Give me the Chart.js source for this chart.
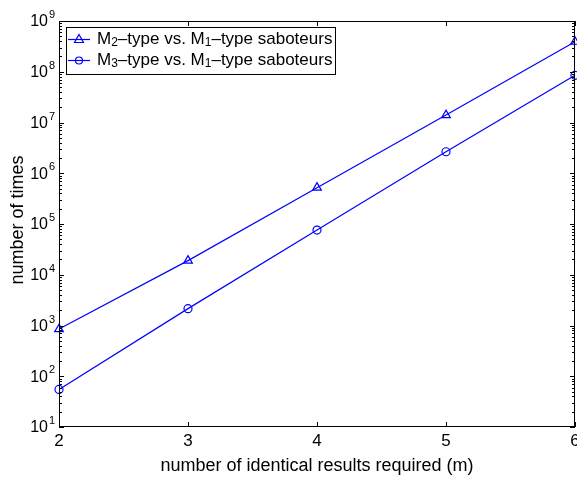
<!DOCTYPE html>
<html>
<head>
<meta charset="utf-8">
<script src="https://cdn.jsdelivr.net/npm/chart.js@4"></script>
<style>
  body { margin: 0; background: #fff; }
  canvas { display: block; }
</style>
</head>
<body>
<canvas id="myChart" width="577" height="478"></canvas>
<script>
// data
const mValues = [2, 3, 4, 5, 6];
const m2Times = [850, 19000, 520000, 14000000, 390000000];
const m3Times = [55, 2150, 76000, 2650000, 85000000];
const yExponents = [1, 2, 3, 4, 5, 6, 7, 8, 9];
const xTickLabels = ['2', '3', '4', '5', '6'];

const seriesNames = [
    [['M', 0], ['2', 1], ['\u2013type vs. M', 0], ['1', 1], ['\u2013type saboteurs', 0]],
    [['M', 0], ['3', 1], ['\u2013type vs. M', 0], ['1', 1], ['\u2013type saboteurs', 0]]
];

const FONT = '"Liberation Sans", Arial, Helvetica, sans-serif';
const BLUE = 'rgb(0,0,255)';

function toPoints(ys) {
    return mValues.map((x, i) => ({ x: x, y: ys[i] }));
}

// draws text pieces, flag 1 = subscript
function drawRich(c, parts, x, y, size) {
    let cx = x;
    parts.forEach(p => {
        let fs = p[1] ? Math.round(size * 0.7) : size;
        let dy = p[1] ? size * 0.22 : 0;
        c.font = fs + 'px ' + FONT;
        c.fillText(p[0], cx, y + dy);
        cx += c.measureText(p[0]).width;
    });
}

const axesPlugin = {
    id: 'matlabAxes',
    afterDraw(chart) {
        const c = chart.ctx;
        const a = chart.chartArea;
        const xs = chart.scales.x;
        const ys = chart.scales.y;
        c.save();
        c.strokeStyle = '#000';
        c.fillStyle = '#000';
        c.lineWidth = 1;

        // ticks inside the box
        c.beginPath();
        mValues.forEach(v => {
            let px = Math.round(xs.getPixelForValue(v)) + 0.5;
            c.moveTo(px, a.bottom); c.lineTo(px, a.bottom - 5);
            c.moveTo(px, a.top); c.lineTo(px, a.top + 5);
        });
        yExponents.forEach(e => {
            let py = Math.round(ys.getPixelForValue(Math.pow(10, e))) + 0.5;
            c.moveTo(a.left, py); c.lineTo(a.left + 5, py);
            c.moveTo(a.right, py); c.lineTo(a.right - 5, py);
            if (e < 9) {
                for (let k = 2; k <= 9; k++) {
                    let pm = Math.round(ys.getPixelForValue(k * Math.pow(10, e))) + 0.5;
                    c.moveTo(a.left, pm); c.lineTo(a.left + 3, pm);
                    c.moveTo(a.right, pm); c.lineTo(a.right - 3, pm);
                }
            }
        });
        c.stroke();

        // box
        c.strokeRect(Math.round(a.left) + 0.5, Math.round(a.top) + 0.5,
            Math.round(a.right - a.left) - 1, Math.round(a.bottom - a.top) - 1);

        // x tick labels and title
        c.font = '17px ' + FONT;
        c.textAlign = 'center';
        c.textBaseline = 'middle';
        mValues.forEach((v, i) => {
            c.fillText(xTickLabels[i], xs.getPixelForValue(v), a.bottom + 14);
        });
        c.font = '18px ' + FONT;
        c.fillText('number of identical results required (m)', (a.left + a.right) / 2, a.bottom + 39);

        // y tick labels 10^n
        c.textAlign = 'left';
        yExponents.forEach(e => {
            let py = ys.getPixelForValue(Math.pow(10, e));
            c.font = '16px ' + FONT;
            let w = c.measureText('10').width;
            c.fillText('10', 48 - w, py + 1);
            c.font = '11px ' + FONT;
            c.fillText(String(e), 49, py - 6);
        });

        // y title
        c.save();
        c.translate(18, 220);
        c.rotate(-Math.PI / 2);
        c.font = '18px ' + FONT;
        c.textAlign = 'center';
        c.fillText('number of times', 0, 0);
        c.restore();

        // legend
        c.fillStyle = '#fff';
        c.fillRect(66, 27, 269, 47);
        c.strokeStyle = '#000';
        c.strokeRect(66.5, 27.5, 269, 47);
        c.textBaseline = 'middle';
        c.textAlign = 'left';
        [39, 60].forEach((ly, i) => {
            c.strokeStyle = BLUE;
            c.lineWidth = 1.2;
            c.beginPath();
            c.moveTo(68, ly + 0.5); c.lineTo(90, ly + 0.5);
            c.stroke();
            c.beginPath();
            if (i === 0) {
                c.moveTo(79, ly - 4.5); c.lineTo(83.5, ly + 3.5); c.lineTo(74.5, ly + 3.5); c.closePath();
            } else {
                c.arc(79, ly + 0.5, 3.5, 0, Math.PI * 2);
            }
            c.stroke();
            c.fillStyle = '#000';
            drawRich(c, seriesNames[i], 97, ly, 17);
        });
        c.restore();
    }
};

const ctx = document.getElementById('myChart').getContext('2d');

let graphData = {
    type: 'line',
    data: {
        datasets: [{
            label: 'M2-type vs. M1-type saboteurs',
            data: toPoints(m2Times),
            borderColor: BLUE,
            backgroundColor: 'rgba(0,0,0,0)',
            borderWidth: 1.2,
            pointStyle: 'triangle',
            pointRadius: 5,
            pointBorderWidth: 1.2,
            clip: false
        }, {
            label: 'M3-type vs. M1-type saboteurs',
            data: toPoints(m3Times),
            borderColor: BLUE,
            backgroundColor: 'rgba(0,0,0,0)',
            borderWidth: 1.2,
            pointStyle: 'circle',
            pointRadius: 4,
            pointBorderWidth: 1.2,
            clip: false
        }]
    },
    options: {
        responsive: false,
        animation: false,
        layout: { autoPadding: false, padding: { left: 59, top: 21, right: 2, bottom: 51 } },
        plugins: { legend: { display: false }, tooltip: { enabled: false } },
        scales: {
            x: { type: 'linear', min: 2, max: 6, display: false },
            y: { type: 'logarithmic', min: 10, max: 1e9, display: false }
        }
    },
    plugins: [axesPlugin]
};
const myChart = new Chart(ctx, graphData);
</script>
</body>
</html>
